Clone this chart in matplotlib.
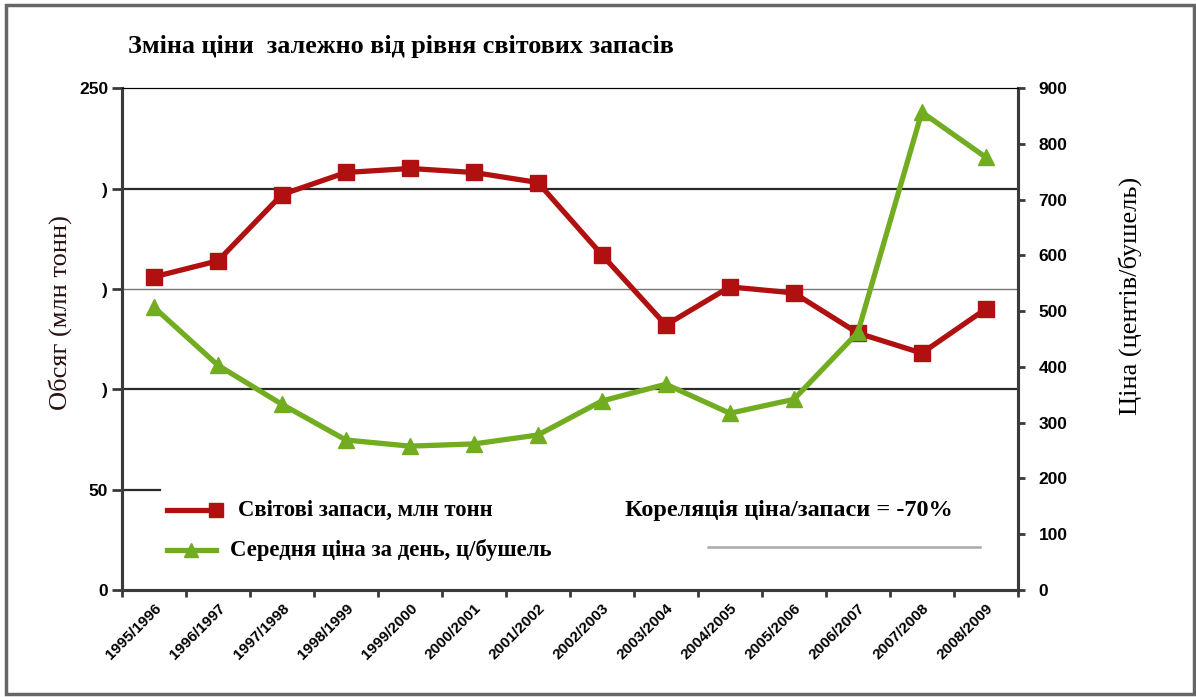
import matplotlib.pyplot as plt
import matplotlib.patches as mpatches
from matplotlib.lines import Line2D

seasons = ["1995/1996", "1996/1997", "1997/1998", "1998/1999", "1999/2000",
           "2000/2001", "2001/2002", "2002/2003", "2003/2004", "2004/2005",
           "2005/2006", "2006/2007", "2007/2008", "2008/2009"]
stocks = [156, 164, 197, 208, 210, 208, 203, 167, 132, 151, 148, 128, 118, 140]
price = [507, 403, 333, 269, 258, 262, 278, 339, 369, 317, 342, 462, 857, 776]

left_ticks = [0, 50, 100, 150, 200, 250]
left_labels = ["0", "50", ")", ")", ")", "250"]
right_ticks = [0, 100, 200, 300, 400, 500, 600, 700, 800, 900]

RED = "#B01010"
GREEN = "#72AC20"
AXC = "#3a3a3a"
serif = "Liberation Serif"
sans = "Liberation Sans"

fig = plt.figure(figsize=(11.96, 6.97), dpi=100)
ax = fig.add_axes([0.102, 0.1535, 0.749, 0.72])
ax2 = ax.twinx()

x = list(range(len(seasons)))
ax.set_xlim(-0.5, len(seasons) - 0.5)
ax.set_ylim(0, 250)
ax2.set_ylim(0, 900)

# grid lines
for v, c, w in [(200, "#2a2a2a", 1.6), (150, "#777777", 1.0), (100, "#2a2a2a", 1.6)]:
    ax.axhline(v, color=c, lw=w, zorder=1)
ax.axhline(50, xmin=0, xmax=0.042, color="#2a2a2a", lw=1.6, zorder=1)

ax.plot(x, stocks, color=RED, lw=3.8, marker="s", ms=11, zorder=3)
ax2.plot(x, price, color=GREEN, lw=3.8, marker="^", ms=11, zorder=3)

ax.set_yticks(left_ticks)
ax.set_yticklabels(left_labels)
ax2.set_yticks(right_ticks)
ax.set_xticks([i - 0.5 for i in range(len(seasons) + 1)])
ax.set_xticklabels([])
ax.set_xticks(x, minor=True)
ax.set_xticklabels(seasons, minor=True, rotation=45, ha="right", va="top",
                   rotation_mode="anchor", fontfamily=sans, fontweight="bold",
                   fontsize=11)
ax.tick_params(axis="x", which="minor", length=0, pad=8)
ax.tick_params(axis="x", which="major", length=5, width=2, color=AXC)
ax.tick_params(axis="y", length=7, width=2, color=AXC, pad=3)
ax2.tick_params(axis="y", length=5, width=2, color=AXC, pad=10)
for lab in ax.get_yticklabels() + ax2.get_yticklabels():
    lab.set_fontfamily(sans)
    lab.set_fontweight("bold")
    lab.set_fontsize(12.5)

for s in ["left", "bottom", "right"]:
    ax.spines[s].set_color(AXC)
    ax.spines[s].set_linewidth(2.2)
    ax2.spines[s].set_color(AXC)
    ax2.spines[s].set_linewidth(2.2)
ax.spines["top"].set_linewidth(0.8)
ax2.spines["top"].set_linewidth(0.8)

ax.set_ylabel("Обсяг (млн тонн)", fontfamily=serif, fontsize=19, color="#2a1010")
ax.yaxis.set_label_coords(-0.056, 0.552)
ax2.set_ylabel("Ціна (центів/бушель)", fontfamily=serif, fontsize=19)
ax2.yaxis.set_label_coords(1.112, 0.585)

fig.text(0.107, 0.934, "Зміна ціни  залежно від рівня світових запасів",
         fontfamily=serif, fontweight="bold", fontsize=18.8, va="center")

# legend area
ax.add_line(Line2D([0.05, 0.105], [0.159, 0.159], transform=ax.transAxes,
                   color=RED, lw=3.8, marker="s", ms=10, markevery=[1],
                   clip_on=False))
ax.add_line(Line2D([0.05, 0.105], [0.0797, 0.0797], transform=ax.transAxes,
                   color=GREEN, lw=3.8, clip_on=False))
ax.plot([0.0775], [0.0797], transform=ax.transAxes, color=GREEN, marker="^",
        ms=10, clip_on=False)
ax.text(0.129, 0.159, "Світові запаси, млн тонн", transform=ax.transAxes,
        fontfamily=serif, fontweight="bold", fontsize=16.3, va="center")
ax.text(0.121, 0.08, "Середня ціна за день, ц/бушель", transform=ax.transAxes,
        fontfamily=serif, fontweight="bold", fontsize=16.4, va="center")
ax.text(0.561, 0.159, "Кореляція ціна/запаси = -70%", transform=ax.transAxes,
        fontfamily=serif, fontweight="bold", fontsize=17.5, va="center")
ax.add_line(Line2D([0.654, 0.958], [0.085, 0.085], transform=ax.transAxes,
                   color="#aaaaaa", lw=1.8))

# outer frame
fig.add_artist(mpatches.Rectangle((0.005, 0.004), 0.993, 0.989,
                                  transform=fig.transFigure, fill=False,
                                  edgecolor="#666666", lw=2.5))

fig.savefig("out.png", dpi=100)
